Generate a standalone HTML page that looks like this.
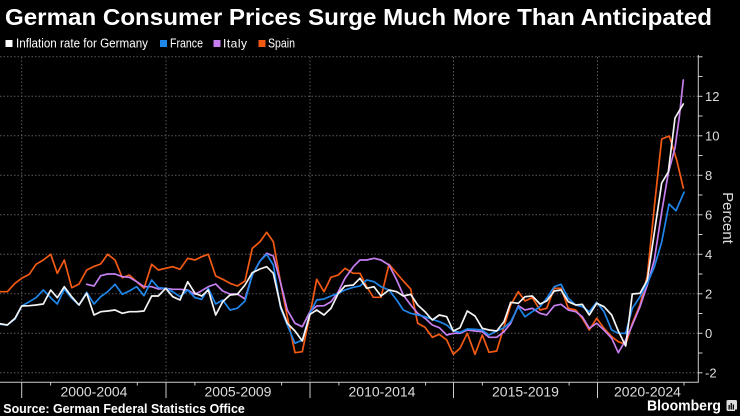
<!DOCTYPE html>
<html><head><meta charset="utf-8"><style>
html,body{margin:0;padding:0;background:#000;}
svg{display:block;}
</style></head><body>
<svg width="740" height="416" viewBox="0 0 740 416" xmlns="http://www.w3.org/2000/svg" font-family="Liberation Sans, sans-serif">
<rect width="740" height="416" fill="#000"/>
<text x="5" y="25" font-size="23" font-weight="bold" fill="#fff" textLength="707" lengthAdjust="spacingAndGlyphs">German Consumer Prices Surge Much More Than Anticipated</text>
<!-- legend -->
<rect x="5.5" y="40" width="7" height="7" fill="#fff"/>
<text x="16" y="47.5" font-size="12.5" fill="#fff" textLength="132" lengthAdjust="spacingAndGlyphs">Inflation rate for Germany</text>
<rect x="160" y="40" width="7" height="7" fill="#1f86ea"/>
<text x="170" y="47.5" font-size="12.5" fill="#fff" textLength="33" lengthAdjust="spacingAndGlyphs">France</text>
<rect x="213.5" y="40" width="7" height="7" fill="#c77ff0"/>
<text x="223" y="47.5" font-size="12" fill="#fff" textLength="24" lengthAdjust="spacing">Italy</text>
<rect x="258.5" y="40" width="7" height="7" fill="#f25a14"/>
<text x="268" y="47.5" font-size="12.5" fill="#fff" textLength="27" lengthAdjust="spacingAndGlyphs">Spain</text>
<!-- gridlines -->
<g stroke="#5a5a5a" stroke-width="1" stroke-dasharray="1.5,2">
<line x1="0" y1="56.8" x2="698" y2="56.8"/>
<line x1="0" y1="96.3" x2="698" y2="96.3"/>
<line x1="0" y1="135.8" x2="698" y2="135.8"/>
<line x1="0" y1="175.3" x2="698" y2="175.3"/>
<line x1="0" y1="214.8" x2="698" y2="214.8"/>
<line x1="0" y1="254.3" x2="698" y2="254.3"/>
<line x1="0" y1="293.8" x2="698" y2="293.8"/>
<line x1="0" y1="333.3" x2="698" y2="333.3"/>
<line x1="0" y1="372.8" x2="698" y2="372.8"/>
<line x1="21.7" y1="57" x2="21.7" y2="382"/>
<line x1="166" y1="57" x2="166" y2="382"/>
<line x1="310" y1="57" x2="310" y2="382"/>
<line x1="453.5" y1="57" x2="453.5" y2="382"/>
<line x1="597.5" y1="57" x2="597.5" y2="382"/>
</g>
<!-- axes -->
<g stroke="#ccc" stroke-width="1" fill="none">
<line x1="698.3" y1="55" x2="698.3" y2="382.3"/>
<line x1="0" y1="382.3" x2="698.8" y2="382.3"/>
<line x1="698.3" y1="56.8" x2="702.5" y2="56.8"/>
<line x1="698.3" y1="76.5" x2="702.5" y2="76.5"/>
<line x1="698.3" y1="96.3" x2="702.5" y2="96.3"/>
<line x1="698.3" y1="116" x2="702.5" y2="116"/>
<line x1="698.3" y1="135.8" x2="702.5" y2="135.8"/>
<line x1="698.3" y1="155.5" x2="702.5" y2="155.5"/>
<line x1="698.3" y1="175.3" x2="702.5" y2="175.3"/>
<line x1="698.3" y1="195" x2="702.5" y2="195"/>
<line x1="698.3" y1="214.8" x2="702.5" y2="214.8"/>
<line x1="698.3" y1="234.5" x2="702.5" y2="234.5"/>
<line x1="698.3" y1="254.3" x2="702.5" y2="254.3"/>
<line x1="698.3" y1="274" x2="702.5" y2="274"/>
<line x1="698.3" y1="293.8" x2="702.5" y2="293.8"/>
<line x1="698.3" y1="313.5" x2="702.5" y2="313.5"/>
<line x1="698.3" y1="333.3" x2="702.5" y2="333.3"/>
<line x1="698.3" y1="353" x2="702.5" y2="353"/>
<line x1="698.3" y1="372.8" x2="702.5" y2="372.8"/>
<!-- bottom ticks -->
<line x1="21.7" y1="382" x2="21.7" y2="398"/>
<line x1="166" y1="382" x2="166" y2="398"/>
<line x1="310" y1="382" x2="310" y2="398"/>
<line x1="453.5" y1="382" x2="453.5" y2="398"/>
<line x1="597.5" y1="382" x2="597.5" y2="398"/>
<line x1="50.6" y1="382" x2="50.6" y2="385.5"/>
<line x1="137.3" y1="382" x2="137.3" y2="385.5"/>
<line x1="194.9" y1="382" x2="194.9" y2="385.5"/>
<line x1="281.6" y1="382" x2="281.6" y2="385.5"/>
<line x1="338.9" y1="382" x2="338.9" y2="385.5"/>
<line x1="425.6" y1="382" x2="425.6" y2="385.5"/>
<line x1="482.4" y1="382" x2="482.4" y2="385.5"/>
<line x1="569.1" y1="382" x2="569.1" y2="385.5"/>
<line x1="684" y1="382" x2="684" y2="385.5"/>
</g>
<!-- y labels -->
<g font-size="13" fill="#ddd">
<text x="705" y="101">12</text>
<text x="705" y="140.5">10</text>
<text x="705" y="180">8</text>
<text x="705" y="219.5">6</text>
<text x="705" y="259">4</text>
<text x="705" y="298.5">2</text>
<text x="705" y="338">0</text>
<text x="705" y="377.5">-2</text>
</g>
<text x="723" y="218" font-size="15" fill="#ddd" text-anchor="middle" transform="rotate(90 723 218)">Percent</text>
<!-- x labels -->
<g font-size="14" fill="#ddd" text-anchor="middle">
<text x="94" y="396.5">2000-2004</text>
<text x="238" y="396.5">2005-2009</text>
<text x="382" y="396.5">2010-2014</text>
<text x="525.5" y="396.5">2015-2019</text>
<text x="647.5" y="396.5">2020-2024</text>
</g>
<!-- series -->
<g fill="none" stroke-width="1.7" stroke-linejoin="round" stroke-linecap="round">
<polyline stroke="#f25a14" points="0,291.7 7.3,291.7 15,283.3 21.7,278.3 29.3,274.3 36,264.3 43.3,260 50.7,254.3 57.3,273.3 64.3,260 71.7,287.7 79,284 86.7,270 93.3,266.7 100.7,264 107.7,254.3 115,260 122.3,277.7 129.3,275 136.7,281.7 144,288.3 151.7,264.3 158.3,270 165.7,268.3 172.7,266.7 180,269.3 187.7,258.3 195,260 201.7,256.7 208.3,254.3 215.7,276 222.7,279.3 230,283.3 237.3,286 245,281 252.3,248.3 260,241.7 266.7,232.3 273.3,241.7 280.7,283.3 287.3,316.7 295,352.7 302.3,351.7 310,314.3 316.7,279.3 324,291.7 331,277.3 338.3,275 345,268.3 353.3,273.3 360,273.3 366.7,286.7 373.3,297.3 381,297.3 389,264.3 396.7,273.3 403.3,281 410.7,289 417.7,323.3 425,327.3 432.3,337.3 439.3,334.3 446.7,340 453.3,354.3 460,348.3 467.3,333.3 475,354.3 482.3,335 489,352.3 496.7,351 504,326.7 510.7,305 518.3,291.7 525,301 532.3,297.7 540,310 546.7,308.3 554.3,288.3 561,288.3 568.3,308.3 575.7,310 582.3,318.3 589.3,330 596.7,318.3 604,328.3 611.7,336.7 618.3,341.7 625.7,344.3 632.3,323.3 640,305 647.3,276 654.3,207 661.7,139 669.3,136 676.7,160 683.3,188"/>
<polyline stroke="#c77ff0" points="86.7,284.3 94,286 100.7,275.7 107.7,274 115,274 122.3,276.7 129.3,277.3 136.7,281.7 144,286.7 151.7,286.7 158.3,289 165.7,288.3 172.7,289.3 180,289.3 187.7,290 195,294.3 201.7,290.7 208.3,286.7 215.7,284 222.7,291 230,294 237.3,294 245,299 252.3,275 260,261 266.7,253.3 273.3,256 280.7,283.3 287.3,310 295,323.3 302.3,326.7 310,311.7 316.7,306 324,305.7 331,301.7 338.3,291.7 345,278.3 353.3,266.7 360,260 366.7,260 374,258.3 381,260 389,265 396.7,280 403.3,295 410.7,305 417.7,313.3 425,318.3 432.3,325 439.3,327.7 446.7,335 453.3,333.3 460,333.3 467.3,330 475,331 482.3,331.7 489,337.3 496.7,337.3 504,331.7 510.7,323.3 518.3,305.7 525,310 532.3,308.3 540,313.3 546.7,315 554.3,305.7 561,304.3 568.3,310 575.7,311.7 582.3,316.7 589.3,328.3 596.7,323.3 604,330 611.7,338.3 618.3,352.7 625.7,340 632.3,325 640,306.7 647.3,285 654.3,260 661.7,212 668.3,173 675,148 679.3,117 683.3,80"/>
<polyline stroke="#1f86ea" points="0,324.3 7.3,325 15,319 21.7,306 29.3,301.7 36,297.7 43.3,290 50.7,297.7 57.3,304 64.3,289 71.7,298.3 79,305 86.7,292.3 94,304 100.7,296.7 107.7,291.7 115,284.3 122.3,294.3 129.3,291 136.7,286.7 144,295.7 151.7,280 158.3,287.7 165.7,288.3 172.7,291.7 180,296.7 187.7,290 195,297.7 201.7,299.3 208.3,288.3 215.7,304 222.7,300 230,310 237.3,308.3 245,301 252.3,275 260,261 266.7,254.3 273.3,265 280.7,308.3 287.3,325 295,343.3 302.3,340 310,313.3 316.7,300 324,299 331,296 338.3,293.3 345,290 353.3,287.3 360,286 366.7,280 374,281.7 381,286.7 389,290 396.7,300 403.3,310 410.7,313.3 417.7,315 425,316.7 432.3,319.3 439.3,321.7 446.7,325 453.3,331 460,332.3 467.3,329 475,329.3 482.3,330 489,335 496.7,331 504,327.7 510.7,321.7 518.3,306.7 525,316.7 532.3,311.7 540,306.7 546.7,298.3 554.3,286.7 561,284.3 568.3,298.3 575.7,305 582.3,306.7 589.3,311.7 596.7,302.3 604,311.7 611.7,330 618.3,333.3 625.7,333.3 632.3,308.3 640,296.7 647.3,283.3 654.3,267 661.7,242 669,204 676,210.7 684,192.3"/>
<polyline stroke="#f4f4f4" points="0,323.7 7.3,325 15,318.3 21.7,306 29.3,305.7 36,305 43.3,304 50.7,290 57.3,297.7 64.3,286.7 71.7,296.7 79,305 86.7,293.3 94,315 100.7,311.7 107.7,311 115,310 122.3,313.3 129.3,311.7 136.7,311.7 144,311 151.7,296 158.3,296 165.7,288.3 172.7,296.7 180,300 187.7,281.7 195,293.3 201.7,296 208.3,290 215.7,315 222.7,301.7 230,295 237.3,294.3 245,285 252.3,272.7 260,269 266.7,266.7 273.3,273.3 280.7,306.7 287.3,323.3 295,331 302.3,341 310,314.3 316.7,310 324,315 331,308.3 338.3,293.3 345,286 353.3,285 360,278.3 366.7,288.3 374,286.7 381,296 389,290 396.7,291.7 403.3,296 410.7,294.3 417.7,305 425,311.7 432.3,320 439.3,315 446.7,316.7 453.3,331 460,327.7 467.3,311 475,316 482.3,328.3 489,330 496.7,331 504,321.7 510.7,302.3 518.3,303.3 525,296.7 532.3,296 540,304 546.7,301 554.3,291 561,290 568.3,301.7 575.7,305 582.3,304.3 589.3,315 596.7,303.3 604,306.7 611.7,315 618.3,331 625.7,346 632.3,294 640,293.3 647.3,280 654.3,233 661.7,183 668.3,172 675,118 683.3,104"/>
</g>
<!-- footer -->
<text x="3.3" y="413" font-size="12.5" font-weight="bold" fill="#fff" textLength="241.5" lengthAdjust="spacingAndGlyphs">Source: German Federal Statistics Office</text>
<text x="647" y="410.7" font-size="14.5" font-weight="bold" fill="#fff" textLength="74" lengthAdjust="spacingAndGlyphs">Bloomberg</text>
<rect x="726.5" y="400" width="10.5" height="11" rx="1.5" fill="#ddd"/>
<g fill="#000">
<rect x="728.5" y="405" width="1.3" height="4.5"/>
<rect x="730.6" y="403" width="1.3" height="6.5"/>
<rect x="732.7" y="404.5" width="1.3" height="5"/>
</g>
<rect x="735" y="409.5" width="2" height="2" fill="#000"/>
</svg>
</body></html>
